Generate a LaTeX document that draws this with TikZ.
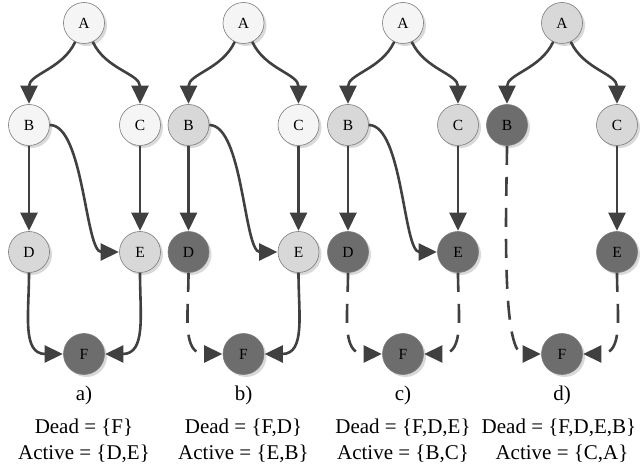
\documentclass[tikz,border=0pt]{standalone}
\usepackage{fontspec}
\setmainfont{Liberation Serif}
\usetikzlibrary{arrows.meta,shadows}

\definecolor{nodewhite}{HTML}{F5F5F5}
\definecolor{nodelight}{HTML}{D8D8D8}
\definecolor{nodedark}{HTML}{6D6D6D}
\definecolor{edgecol}{HTML}{404040}
\definecolor{rimcol}{HTML}{7A7A7A}

\tikzset{
  vertex/.style={circle, minimum size=41pt, inner sep=0pt, draw=rimcol,
    line width=0.6pt, font=\fontsize{15.5}{17}\selectfont,
    drop shadow={shadow xshift=2.5pt, shadow yshift=-2.5pt, fill=black!25, opacity=0.6}},
  fresh/.style={vertex, fill=nodewhite},
  active/.style={vertex, fill=nodelight},
  dead/.style={vertex, fill=nodedark},
  edge/.style={draw=edgecol, line width=2.6pt,
    -{Triangle[length=18pt,width=17pt]}, shorten >=0.5pt},
  gone/.style={edge, dash pattern=on 19pt off 12pt},
  caption/.style={font=\fontsize{21}{23}\selectfont, inner sep=0pt},
}

\begin{document}
\begin{tikzpicture}[x=1pt, y=-1pt]
\useasboundingbox (0,0) rectangle (640,473);

% ---- a) ----
\begin{scope}[xshift=84pt]
  \node[fresh]  (aA) at (0,23)   {A};
  \node[fresh]  (aB) at (-55,125) {B};
  \node[fresh]  (aC) at (56,125) {C};
  \node[active] (aD) at (-55,252) {D};
  \node[active] (aE) at (56,252) {E};
  \node[dead]   (aF) at (0,354) {F};
  \draw[edge] (aA) to[out=-115,in=90] (aB);
  \draw[edge] (aA) to[out=-65,in=90] (aC);
  \draw[edge] (aB) -- (aD);
  \draw[edge] (aC) -- (aE);
  \draw[edge] (aB) to[out=0,in=180,looseness=0.6] (aE);
  \draw[edge] (aD) to[out=-90,in=180,looseness=1.2] (aF);
  \draw[edge] (aE) to[out=-90,in=0,looseness=1.2] (aF);
  \node[caption] (alab) at (0,395) {a)};
  \node[caption] (adead) at (0,428) {Dead = \{F\}};
  \node[caption] (aact) at (0,454) {Active = \{D,E\}};
\end{scope}

% ---- b) ----
\begin{scope}[xshift=243.5pt]
  \node[fresh]  (bA) at (0,23)   {A};
  \node[active] (bB) at (-55,125) {B};
  \node[fresh]  (bC) at (55,125) {C};
  \node[dead]   (bD) at (-55,252) {D};
  \node[active] (bE) at (55,252) {E};
  \node[dead]   (bF) at (0,354) {F};
  \draw[edge] (bA) to[out=-115,in=90] (bB);
  \draw[edge] (bA) to[out=-65,in=90] (bC);
  \draw[edge] (bB) -- (bD);
  \draw[edge] (bC) -- (bE);
  \draw[edge] (bB) to[out=0,in=180,looseness=0.6] (bE);
  \draw[gone] (bD) to[out=-90,in=180,looseness=1.2] (bF);
  \draw[edge] (bE) to[out=-90,in=0,looseness=1.2] (bF);
  \node[caption] (blab) at (0,395) {b)};
  \node[caption] (bdead) at (0,428) {Dead = \{F,D\}};
  \node[caption] (bact) at (0,454) {Active = \{E,B\}};
\end{scope}

% ---- c) ----
\begin{scope}[xshift=403pt]
  \node[fresh]  (cA) at (0,23)   {A};
  \node[active] (cB) at (-55,125) {B};
  \node[active] (cC) at (55,125) {C};
  \node[dead]   (cD) at (-55,252) {D};
  \node[dead]   (cE) at (55,252) {E};
  \node[dead]   (cF) at (0,354) {F};
  \draw[edge] (cA) to[out=-115,in=90] (cB);
  \draw[edge] (cA) to[out=-65,in=90] (cC);
  \draw[edge] (cB) -- (cD);
  \draw[edge] (cC) -- (cE);
  \draw[edge] (cB) to[out=0,in=180,looseness=0.6] (cE);
  \draw[gone] (cD) to[out=-90,in=180,looseness=1.2] (cF);
  \draw[gone] (cE) to[out=-90,in=0,looseness=1.2] (cF);
  \node[caption] (clab) at (0,395) {c)};
  \node[caption] (cdead) at (0,428) {Dead = \{F,D,E\}};
  \node[caption] (cact) at (0,454) {Active = \{B,C\}};
\end{scope}

% ---- d) ----
\begin{scope}[xshift=562pt]
  \node[active] (dA) at (0,23)   {A};
  \node[dead]   (dB) at (-55,125) {B};
  \node[active] (dC) at (55,125) {C};
  \node[dead]   (dE) at (55,252) {E};
  \node[dead]   (dF) at (0,354) {F};
  \draw[edge] (dA) to[out=-115,in=90] (dB);
  \draw[edge] (dA) to[out=-65,in=90] (dC);
  \draw[edge] (dC) -- (dE);
  \draw[gone] (dB) to[out=-90,in=180,looseness=0.5] (dF);
  \draw[gone] (dE) to[out=-90,in=0,looseness=1.2] (dF);
  \node[caption] (dlab) at (0,395) {d)};
  \node[caption] (ddead) at (-3,428) {Dead = \{F,D,E,B\}};
  \node[caption] (dact) at (0,454) {Active = \{C,A\}};
\end{scope}
\end{tikzpicture}
\end{document}
